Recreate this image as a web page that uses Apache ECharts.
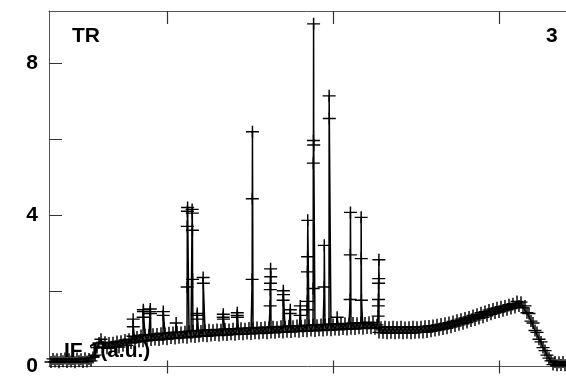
<!DOCTYPE html>
<html>
<head>
<meta charset="utf-8">
<script src="https://cdn.jsdelivr.net/npm/echarts@6/dist/echarts.min.js"></script>
<style>
html,body{margin:0;padding:0;background:#fff;}
#c{width:566px;height:377px;}
</style>
</head>
<body>
<div id="c"></div>
<script>
// Baseline trace: one reading every 2 channels starting at channel 2
const baseStart = 2, baseStep = 2;
const baseY = [
  0.12,0.2,0.13,0.19,0.11,0.2,0.14,0.21,0.12,0.19,
  0.13,0.2,0.11,0.21,0.14,0.19,0.12,0.22,0.13,0.2,
  0.15,0.24,0.3,0.5,0.62,0.72,0.52,0.64,0.48,0.62,
  0.5,0.63,0.52,0.66,0.51,0.67,0.55,0.7,0.56,0.72,
  0.62,0.8,0.64,0.78,0.66,0.82,0.67,0.84,0.68,0.83,
  0.7,0.85,0.71,0.86,0.7,0.88,0.73,0.87,0.72,0.89,
  0.75,0.9,0.74,0.91,0.76,0.9,0.77,0.92,0.76,0.93,
  0.79,0.94,0.78,0.95,0.8,0.94,0.81,0.96,0.8,0.97,
  0.82,0.96,0.83,0.98,0.82,0.97,0.84,0.99,0.83,0.98,
  0.85,1.0,0.84,0.99,0.86,1.01,0.85,1.0,0.87,1.02,
  0.86,1.01,0.88,1.03,0.87,1.02,0.89,1.04,0.88,1.03,
  0.9,1.05,0.89,1.04,0.91,1.06,0.9,1.05,0.92,1.07,
  0.91,1.06,0.93,1.08,0.92,1.07,0.94,1.09,0.93,1.08,
  0.95,1.1,0.94,1.09,0.96,1.11,0.95,1.1,0.97,1.12,
  0.96,1.11,0.98,1.13,0.97,1.12,0.99,1.14,0.98,1.13,
  1.0,1.15,0.99,1.14,1.01,1.16,1.0,1.15,1.02,1.17,
  1.01,1.16,1.0,1.1,0.9,1.04,0.89,1.05,0.88,1.04,
  0.89,1.05,0.88,1.04,0.89,1.05,0.88,1.03,0.89,1.04,
  0.88,1.05,0.89,1.04,0.9,1.05,0.9,1.06,0.91,1.07,
  0.93,1.08,0.95,1.1,0.97,1.12,0.99,1.14,1.01,1.16,
  1.04,1.19,1.07,1.22,1.1,1.25,1.13,1.28,1.16,1.31,
  1.2,1.35,1.23,1.38,1.27,1.42,1.3,1.45,1.34,1.49,
  1.38,1.52,1.41,1.55,1.44,1.58,1.47,1.6,1.5,1.63,
  1.53,1.66,1.56,1.72,1.6,1.7,1.55,1.6,1.42,1.4,
  1.2,1.15,0.95,0.9,0.72,0.65,0.5,0.42,0.3,0.22,
  0.15,0.05,0.12,0.03,0.11,0.04,0.12,0.03,0.11
];
// Spikes: channel position and the successive readings on the spike
const spikeX = [84,94,101,114,127,138,143,148,154,174,188,203,221,234,241,251,258,264,275,280,288,301,312,329];
const spikeY = [
  [1.25,1.05],
  [1.3,1.5,1.45],
  [1.45,1.52,1.4],
  [1.35,1.45],
  [1.15],
  [2.1,3.7,4.1,4.2],
  [4.15,4.05,3.6,2.3],
  [1.35,1.4,1.25],
  [2.35,2.2],
  [1.3,1.38,1.25],
  [1.35,1.42,1.3],
  [2.3,4.43,6.2],
  [1.6,2.03,2.2,2.58,2.37],
  [1.75,2.0,1.9],
  [1.4,1.5],
  [1.35,1.6],
  [1.5,1.72,2.5,2.9,3.86],
  [2.06,5.37,5.97,9.05,5.85],
  [2.1,3.2],
  [7.15,6.55],
  [1.3],
  [1.77,2.95,4.07],
  [3.94,2.85,1.75],
  [1.33,1.6,1.77,2.2,2.32,2.82]
];
const yLabelValues = [0,4,8];
const yTickValues = [2,4,6,8];
const xTickValues = [118,284,450];
const texts = {topLeft:'TR', topRight:'3', yTitle:'IF 1(a.u.)'};

const XMIN = 0, XMAX = 517;
const pts = [];
baseY.forEach((v,i)=>pts.push([baseStart + i*baseStep, v]));
spikeX.forEach((x,i)=>spikeY[i].forEach((v,k)=>pts.push([x + 0.15*(k+1), v])));
pts.sort((a,b)=>a[0]-b[0]);

const axisCol = '#555';
const tickCol = '#333';
const font = 'bold 21px "Liberation Sans", Arial, sans-serif';

const chart = echarts.init(document.getElementById('c'), null, {renderer:'canvas'});
chart.setOption({
  animation:false,
  backgroundColor:'#fff',
  grid:{left:49, top:11, right:0, bottom:6, containLabel:false},
  xAxis:[
    {type:'value', position:'bottom', min:XMIN, max:XMAX,
     axisLine:{show:true, onZero:false, lineStyle:{color:axisCol, width:1}},
     axisTick:{show:false}, axisLabel:{show:false}, splitLine:{show:false}},
    {type:'value', position:'top', min:XMIN, max:XMAX,
     axisLine:{show:true, onZero:false, lineStyle:{color:axisCol, width:1}},
     axisTick:{show:false}, axisLabel:{show:false}, splitLine:{show:false}}
  ],
  yAxis:{type:'value', min:0, max:9.39,
    axisLine:{show:true, lineStyle:{color:axisCol, width:1}},
    axisTick:{show:true, inside:true, length:13, customValues:yTickValues, lineStyle:{color:tickCol}},
    axisLabel:{show:true, customValues:yLabelValues, margin:11, padding:[5,0,0,0], color:'#000', fontSize:21, fontWeight:'bold', fontFamily:'"Liberation Sans", Arial, sans-serif'},
    splitLine:{show:false}},
  graphic:[
    {type:'text', z:0, left:72, top:26, style:{text:texts.topLeft, font:font, fill:'#000'}},
    {type:'text', z:0, left:546, top:26, style:{text:texts.topRight, font:font, fill:'#000'}},
    {type:'text', z:0, left:64, top:341, style:{text:texts.yTitle, font:font, fill:'#000'}}
  ],
  series:[
    {
      type:'line', xAxisIndex:0, data:pts, sampling:null,
      symbol:'path://M0,6L13,6M6.5,0L6.5,12', symbolSize:[13,12], showAllSymbol:true,
      itemStyle:{color:'#000', borderColor:'#000', borderWidth:1.4},
      lineStyle:{color:'#000', width:1.5},
      z:5
    },
    {
      // frame ticks on the top and bottom edges, placed through the x scale
      type:'custom', xAxisIndex:0, clip:false, silent:true, z:6,
      data:xTickValues.map(v=>[v,0]),
      encode:{x:0, y:1},
      renderItem:function(params, api){
        const x = Math.round(api.coord([api.value(0), 0])[0]) + 0.5;
        const yTop = api.coord([api.value(0), 9.39])[1];
        const yBot = api.coord([api.value(0), 0])[1];
        const st = {stroke:tickCol, lineWidth:1.2, fill:null};
        return {type:'group', children:[
          {type:'line', shape:{x1:x, y1:yTop, x2:x, y2:yTop+13}, style:st},
          {type:'line', shape:{x1:x, y1:yBot-6, x2:x, y2:yBot+7}, style:st}
        ]};
      }
    }
  ]
});
</script>
</body>
</html>
